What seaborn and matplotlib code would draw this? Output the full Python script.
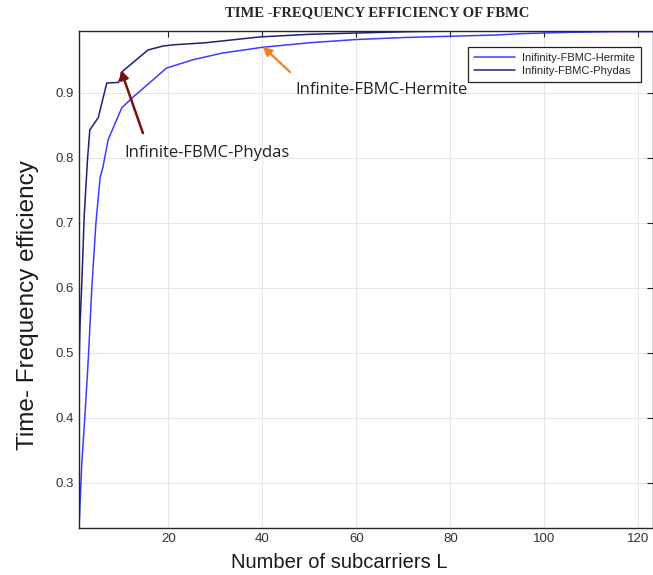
import matplotlib
matplotlib.use("Agg")
import matplotlib.pyplot as plt
import seaborn as sns
import pandas as pd

# Time-frequency efficiency versus number of subcarriers L
hermite_L = [1, 1.6, 2.3, 3.0, 3.7, 4.6, 5.5, 6.1, 7.2, 10.1, 12.6, 19.6, 25.3,
             31.4, 40, 50, 60, 70, 80, 90, 95, 105, 115, 123]
hermite_eff = [0.231, 0.331, 0.408, 0.494, 0.597, 0.700, 0.770, 0.786, 0.828,
               0.877, 0.894, 0.938, 0.951, 0.961, 0.970, 0.977, 0.982, 0.985,
               0.987, 0.989, 0.991, 0.993, 0.994, 0.994]

phydas_L = [1, 1.2, 1.6, 2.1, 2.8, 3.3, 5.1, 6.9, 9.4, 10.4, 15.7, 18.9, 21.4,
            27.9, 39.5, 50, 60, 71, 90, 123]
phydas_eff = [0.480, 0.540, 0.608, 0.710, 0.797, 0.843, 0.862, 0.915, 0.916,
              0.934, 0.966, 0.972, 0.974, 0.977, 0.986, 0.990, 0.992, 0.994,
              0.996, 0.998]

series_names = ["Inifinity-FBMC-Hermite", "Infinity-FBMC-Phydas"]
x_ticks = [20, 40, 60, 80, 100, 120]
y_ticks = [0.3, 0.4, 0.5, 0.6, 0.7, 0.8, 0.9]

df = pd.concat([
    pd.DataFrame({"L": hermite_L, "eff": hermite_eff, "curve": series_names[0]}),
    pd.DataFrame({"L": phydas_L, "eff": phydas_eff, "curve": series_names[1]}),
], ignore_index=True)

sns.set_style("white")
plt.rcParams["font.family"] = ["Liberation Sans", "DejaVu Sans"]

fig = plt.figure(figsize=(6.53, 5.75), dpi=100)
ax = fig.add_axes([0.121, 0.082, 0.879, 0.864])

palette = {series_names[0]: "#3c3cff", series_names[1]: "#202078"}
sns.lineplot(data=df, x="L", y="eff", hue="curve", palette=palette,
             linewidth=1.1, sort=False, ax=ax, legend=True)

ax.set_xlim(1, 123.1)
ax.set_ylim(0.231, 0.995)
ax.set_xticks(x_ticks)
ax.set_yticks(y_ticks)
ax.set_xticklabels([str(t) for t in x_ticks])
ax.set_yticklabels([f"{t:.1f}" for t in y_ticks])
ax.grid(True, color="#e6e6e6", linewidth=0.8)
ax.tick_params(direction="in", length=4, width=0.8, colors="#222222",
               labelsize=9.5, top=True, right=True, labelcolor="#333333")
for s in ax.spines.values():
    s.set_color("#262626")
    s.set_linewidth(1.0)

ax.set_xlabel("Number of subcarriers L", fontsize=14.5, color="#1a1a1a")
ax.xaxis.set_label_coords(0.453, -0.05)
ax.set_ylabel("Time- Frequency efficiency", fontsize=17.5, color="#1a1a1a")
ax.yaxis.set_label_coords(-0.07, 0.449)
ax.set_title("TIME -FREQUENCY EFFICIENCY OF FBMC", fontsize=10.5,
             fontweight="bold", family=["Liberation Serif", "DejaVu Serif"],
             x=0.519, pad=11)

leg = ax.legend(loc="upper right", bbox_to_anchor=(0.988, 0.980),
                fontsize=8, frameon=True, fancybox=False, handlelength=3.7,
                borderpad=0.55, labelspacing=0.3, handletextpad=0.6)
leg.get_frame().set_edgecolor("#222222")
leg.get_frame().set_linewidth(0.9)
leg.get_frame().set_alpha(1)

# Arrow annotations pointing at the two curves
ax.text(47.0, 0.905, "Infinite-FBMC-Hermite", fontsize=12, color="#222222",
        va="center", ha="left", family=["Open Sans", "DejaVu Sans"])
ax.annotate("", xy=(40.1, 0.971), xytext=(45.9, 0.932),
            arrowprops=dict(arrowstyle="-|>", color="#f58220", lw=1.6,
                            mutation_scale=13, shrinkA=0, shrinkB=0))
ax.text(10.6, 0.808, "Infinite-FBMC-Phydas", fontsize=12, color="#222222",
        va="center", ha="left", family=["Open Sans", "DejaVu Sans"])
ax.annotate("", xy=(9.9, 0.935), xytext=(14.6, 0.838),
            arrowprops=dict(arrowstyle="-|>", color="#7a1010", lw=1.8,
                            mutation_scale=13, shrinkA=0, shrinkB=0))

fig.savefig("out.png", dpi=100)
